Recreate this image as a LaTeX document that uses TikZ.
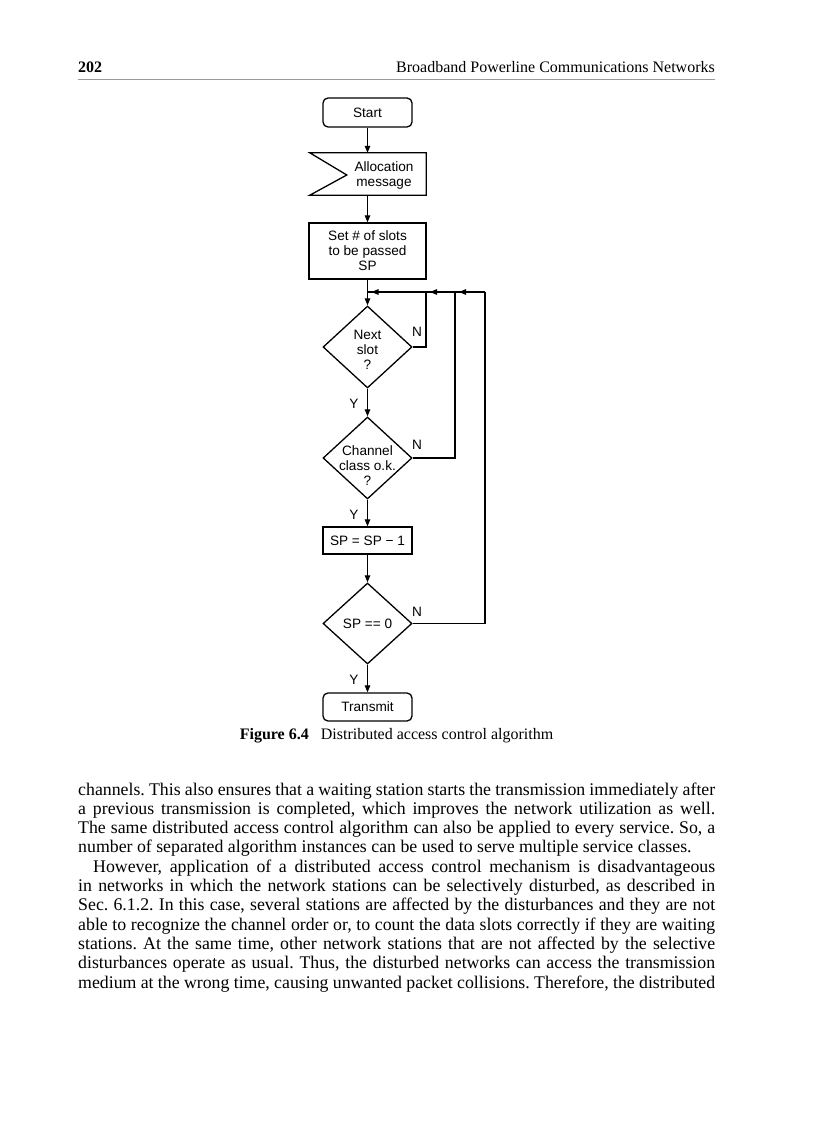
\documentclass[tikz,border=0pt]{standalone}
\usepackage{fontspec}
\setmainfont{Liberation Serif}
\newfontfamily\fcsans{Liberation Sans}
\usetikzlibrary{arrows.meta,shapes.geometric,calc}
\begin{document}
\begin{tikzpicture}[x=1pt,y=-1pt,
  fc/.style={font=\fcsans\fontsize{13.6}{15}\selectfont},
  line/.style={line width=1.2pt},
  arr/.style={line, -{Triangle[length=7pt,width=5.5pt]}},
  term/.style={fc, draw, line width=1.3pt, rounded corners=5pt, minimum width=89pt, minimum height=29pt, inner sep=0pt},
  proc/.style={fc, draw, line width=1.3pt, inner sep=0pt, align=center},
  dia/.style={draw, line width=1.3pt, shape=diamond, minimum width=89pt, minimum height=82pt, inner sep=0pt},
  lab/.style={fc, inner sep=0pt},
  body/.style={font=\frenchspacing\fontsize{17.8}{19.3}\selectfont, anchor=base west, inner sep=0pt},
  small/.style={font=\frenchspacing\fontsize{16}{18}\selectfont, inner sep=0pt},
]
\useasboundingbox[fill=white] (0,0) rectangle (816,1123);

% header
\node[small, anchor=base west] (pg) at (78,73) {\textbf{202}};
\node[small, anchor=base east] (hd) at (715,73) {Broadband Powerline Communications Networks};
\coordinate (rl) at (78,79.5);
\coordinate (rr) at (715,79.5);
\draw[gray!80, line width=1.5pt] (rl) -- (rr);

% flowchart
\node[term] (start) at (367.5,112.5) {Start};
\node[draw=none, minimum width=116pt, minimum height=42pt, inner sep=0pt] (alloc) at (368,174) {};
\draw[line width=1.3pt] (alloc.north west) -- (alloc.north east) -- (alloc.south east) -- (alloc.south west) -- ($(alloc.west)+(37,1)$) -- cycle;
\node[lab, align=center] (alloct) at (384,175.5) {Allocation\\message};
\node[proc, minimum width=117pt, minimum height=56pt] (setsp) at (367.5,251) {Set \# of slots\\to be passed\\SP};
\node[dia] (next) at (367.5,347) {};
\node[lab, align=center] (nextt) at (367.5,349.5) {Next\\slot\\?};
\node[dia] (chan) at (367.5,458) {};
\node[lab, align=center] (chant) at (367.5,466) {Channel\\class o.k.\\?};
\node[proc, minimum width=89pt, minimum height=27pt] (sp1) at (367.5,540.5) {SP = SP − 1};
\node[dia, fc, minimum height=81pt] (sp0) at (367.5,623.5) {SP == 0};
\node[term, minimum height=28pt] (tx) at (367.5,707) {Transmit};

\coordinate (j1) at (367.5,292);
\coordinate (j2) at (426,292);
\coordinate (j3) at (455,292);
\coordinate (j4) at (485,292);

\draw[arr] (start.south) -- (start.south |- alloc.north);
\draw[arr] (alloc.south -| setsp.north) -- (setsp.north);
\draw[arr] (setsp.south) -- (next.north);
\draw[arr] (next.south) -- (chan.north);
\draw[arr] (chan.south) -- (sp1.north);
\draw[arr] (sp1.south) -- (sp0.north);
\draw[arr] (sp0.south) -- (tx.north);
\draw[line] (next.east) -| (j2);
\draw[line] (chan.east) -| (j3);
\draw[line] (sp0.east) -| (j4);
\draw[line] (j1) -- (j4);
\draw[arr] (j4) -- ([xshift=4pt]j3);
\draw[arr] (j3) -- ([xshift=4pt]j2);
\draw[arr] (j2) -- ([xshift=4pt]j1);

\node[lab] (y1) at (354,404) {Y};
\node[lab] (y2) at (354,515) {Y};
\node[lab] (y3) at (354,680) {Y};
\node[lab] (n1) at (417,332) {N};
\node[lab] (n2) at (417,445) {N};
\node[lab] (n3) at (417,612) {N};

% caption
\node[small, anchor=base] (cap) at (396.5,739) {\textbf{Figure 6.4}\hspace{0.75em}Distributed access control algorithm};

% body text
\node[body] (l1) at (78,795) {\makebox[637pt][s]{channels. This also ensures that a waiting station starts the transmission immediately after}};
\node[body] (l2) at (78,814.3) {\makebox[637pt][s]{a previous transmission is completed, which improves the network utilization as well.}};
\node[body] (l3) at (78,833.6) {\makebox[637pt][s]{The same distributed access control algorithm can also be applied to every service. So, a}};
\node[body] (l4) at (78,852.9) {number of separated algorithm instances can be used to serve multiple service classes.};
\node[body] (l5) at (93,872.2) {\makebox[622pt][s]{However, application of a distributed access control mechanism is disadvantageous}};
\node[body] (l6) at (78,891.5) {\makebox[637pt][s]{in networks in which the network stations can be selectively disturbed, as described in}};
\node[body] (l7) at (78,910.8) {\makebox[637pt][s]{Sec. 6.1.2. In this case, several stations are affected by the disturbances and they are not}};
\node[body] (l8) at (78,930.1) {\makebox[637pt][s]{able to recognize the channel order or, to count the data slots correctly if they are waiting}};
\node[body] (l9) at (78,949.4) {\makebox[637pt][s]{stations. At the same time, other network stations that are not affected by the selective}};
\node[body] (l10) at (78,968.7) {\makebox[637pt][s]{disturbances operate as usual. Thus, the disturbed networks can access the transmission}};
\node[body] (l11) at (78,988) {\makebox[637pt][s]{medium at the wrong time, causing unwanted packet collisions. Therefore, the distributed}};
\end{tikzpicture}
\end{document}
